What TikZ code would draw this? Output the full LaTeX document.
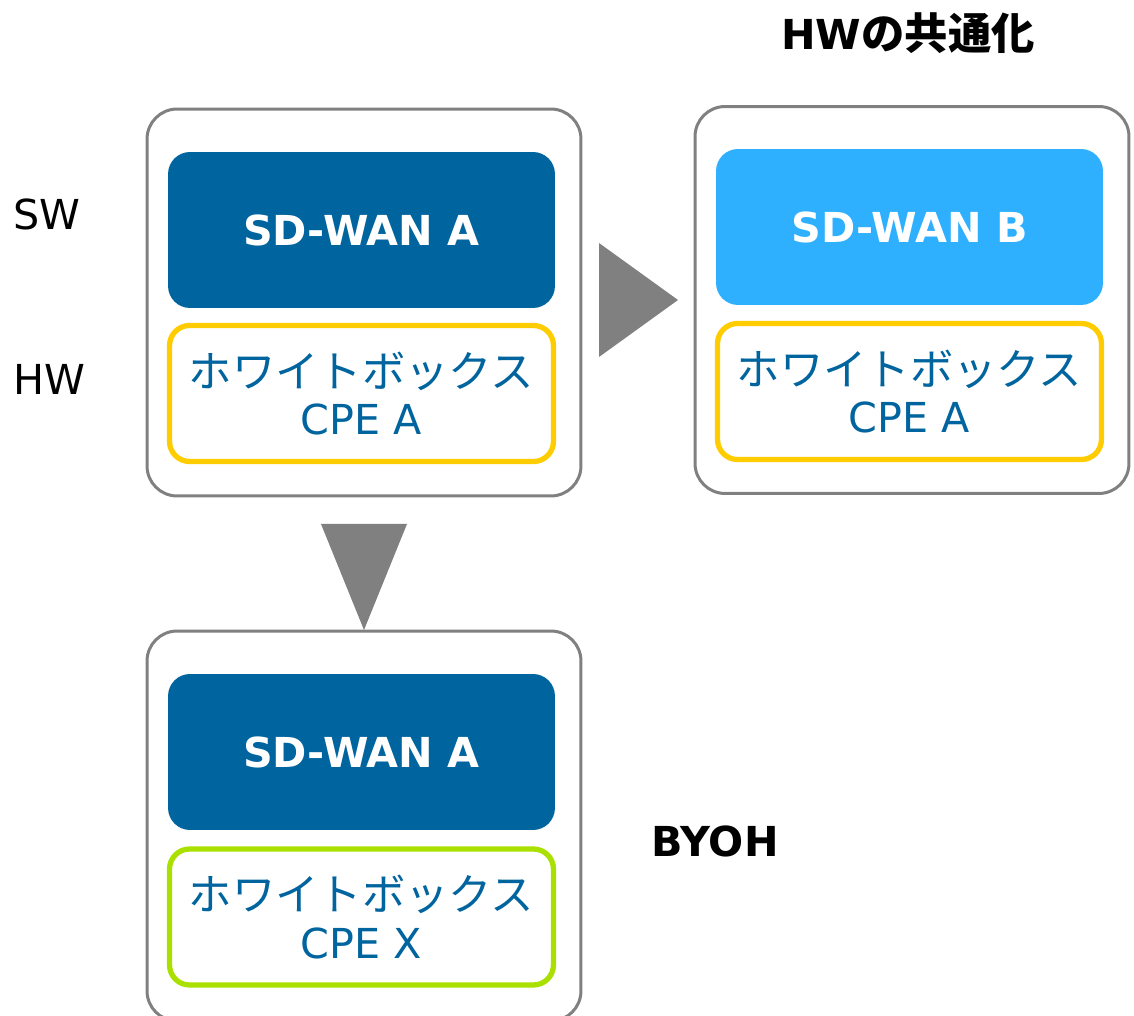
\documentclass[tikz,border=0pt]{standalone}
\usepackage{fontspec}
\setmainfont{DejaVu Sans}
\newfontfamily\jpfont[Scale=1.05]{Noto Sans CJK JP}
\usetikzlibrary{calc, positioning}
\definecolor{wanDark}{HTML}{00649E}
\definecolor{wanLight}{HTML}{2EB0FF}
\definecolor{cpeYellow}{HTML}{FFCC00}
\definecolor{cpeGreen}{HTML}{AAE000}
\definecolor{frameGray}{HTML}{808080}
\newcommand{\bigtxt}{\fontsize{23.5}{28}\selectfont}

\begin{document}
\begin{tikzpicture}[x=0.02cm,y=-0.02cm,
  device/.style={draw=frameGray, line width=1.7pt, rounded corners=0.6cm,
    minimum width=8.68cm, minimum height=7.74cm, fill=white},
  swbox/.style={rounded corners=0.44cm, minimum width=7.74cm, minimum height=3.12cm,
    text=white, font=\bigtxt\bfseries, inner sep=0pt},
  hwbox/.style={draw=#1, line width=3pt, rounded corners=0.4cm, fill=white,
    minimum width=7.68cm, minimum height=2.72cm, text=wanDark, align=center,
    font=\bigtxt, inner sep=0pt},
  label/.style={font=\bigtxt, inner sep=0pt}]
\useasboundingbox (0,0) rectangle (1134,1016);
% devices
\node[device] (devA) at (364,302.5) {};
\node[device] (devB) at (912,300) {};
\node[device, minimum height=7.8cm] (devX) at (364,826) {};
% software
\node[swbox, fill=wanDark] (swA) at (361.5,230) {SD-WAN A};
\node[swbox, fill=wanLight] (swB) at (909.5,227) {SD-WAN B};
\node[swbox, fill=wanDark] (swX) at (361.5,752) {SD-WAN A};
% hardware
\node[hwbox=cpeYellow] (hwA) at (361.5,393.5) {{\jpfont ホワイトボックス}\\[-1pt]CPE A};
\node[hwbox=cpeYellow] (hwB) at (909.5,391.5) {{\jpfont ホワイトボックス}\\[-1pt]CPE A};
\node[hwbox=cpeGreen] (hwX) at (361.5,917) {{\jpfont ホワイトボックス}\\[-1pt]CPE X};
% arrows
\fill[frameGray] (599,243) -- (599,357) -- (678,300) -- cycle;
\fill[frameGray] (321,524) -- (407,524) -- (364,630) -- cycle;
% labels
\node[label] (sw) at (47,214) {SW};
\node[label] (hw) at (49,379) {HW};
\node[label, font=\bigtxt\bfseries] (common) at (908,33) {HW{\jpfont の共通化}};
\node[label, font=\bigtxt\bfseries] (byoh) at (715,841) {BYOH};
\end{tikzpicture}
\end{document}
